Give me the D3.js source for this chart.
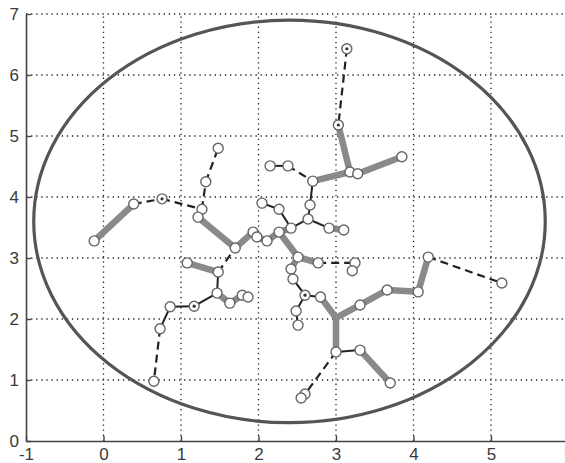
<!DOCTYPE html>
<html>
<head>
<meta charset="utf-8">
<script src="https://cdn.jsdelivr.net/npm/d3@7"></script>
<style>
  html, body { margin: 0; padding: 0; background: #fff; }
  svg { display: block; }
  .tick text { font-family: "Liberation Sans", Arial, sans-serif; font-size: 17px; fill: #3a3a3a; }
</style>
</head>
<body>
<svg id="chart" width="565" height="463"></svg>
<script>
// Axis ticks
const xTicks = [-1, 0, 1, 2, 3, 4, 5, 6];
const yTicks = [0, 1, 2, 3, 4, 5, 6, 7];

// Boundary circle (centre and radius, data units)
const boundaryCenter = [2.4, 3.6];
const boundaryRadius = 3.3;

// Tree nodes
const nodeIds = ["A","B","C","D","E","F","G","H","I1","I2","J","K","L","M","N","O1","O2",
  "P","Q","R1","R2","S","T","U","V1","V2","W","X","Y1","Y2","Z",
  "a","b","c","d","e1","e2","f","g","h","i",
  "m1","m2","m3","m4","m5","m6",
  "n1","n2","n3","n4","n5","n6","n7","p1","p2","p3","p4"];
const nodeX = [-0.12,0.39,0.755,1.27,1.22,1.32,1.48,1.70,1.93,1.98,2.11,2.265,2.42,2.51,2.77,3.245,3.21,
  2.045,2.265,2.15,2.38,2.70,2.665,2.64,2.91,3.10,3.03,3.14,3.18,3.28,3.85,
  1.08,1.48,1.465,1.63,1.79,1.865,1.17,0.86,0.73,0.65,
  2.42,2.445,2.60,2.80,2.485,2.51,
  3.0,3.31,3.0,3.31,3.70,2.60,2.55,3.66,4.06,4.19,5.14];
const nodeY = [3.28,3.885,3.97,3.80,3.67,4.25,4.80,3.165,3.425,3.345,3.28,3.425,3.49,3.015,2.92,2.92,2.79,
  3.90,3.80,4.51,4.51,4.26,3.87,3.64,3.49,3.46,5.18,6.43,4.41,4.38,4.66,
  2.92,2.77,2.425,2.26,2.39,2.36,2.21,2.20,1.84,0.98,
  2.82,2.655,2.39,2.36,2.13,1.90,
  2.02,2.23,1.46,1.49,0.95,0.77,0.705,2.475,2.445,3.015,2.59];
// Branch point drawn without a marker
const hiddenNodes = ["n1"];
// Nodes with a centre dot
const dottedNodes = ["X","f","C","m3","W"];

// Edges: [from, to]
const thickEdges = [["A","B"],["E","H"],["H","I1"],["I1","I2"],["I2","J"],["J","K"],["K","L"],
  ["K","M"],["M","N"],["M","m1"],["a","b"],["c","d"],["d","e1"],["e1","e2"],
  ["W","Y1"],["Y1","Y2"],["Y2","Z"],["Y1","S"],["V1","V2"],
  ["m4","n1"],["n2","n1"],["n1","n3"],["n4","n5"],["n2","p1"],["p1","p2"],["p2","p3"]];
const thinEdges = [["D","E"],["P","Q"],["Q","L"],["R1","R2"],["S","T"],["T","U"],["U","L"],["U","V1"],
  ["b","c"],["c","f"],["f","g"],["g","h"],["m1","m2"],["m2","m3"],["m3","m4"],["m3","m5"],["m5","m6"],
  ["n3","n4"],["O1","O2"],["n6","n7"]];
const dashedEdges = [["B","C"],["C","D"],["D","F"],["F","G"],["b","H"],["R2","S"],["X","W"],
  ["N","O1"],["h","i"],["n3","n6"],["p3","p4"]];

const svg = d3.select("#chart");
const x = d3.scaleLinear().domain([-1, 6]).range([26, 568.5]);
const y = d3.scaleLinear().domain([0, 7]).range([441, 14]);

const pos = {};
nodeIds.forEach((id, k) => { pos[id] = [nodeX[k], nodeY[k]]; });

// Dotted grid
const grid = svg.append("g").attr("stroke", "#222").attr("stroke-width", 1.3)
  .attr("stroke-dasharray", "1.3,3.8").attr("fill", "none");
grid.selectAll("line.v").data(xTicks.filter(t => t > -1)).join("line")
  .attr("x1", d => x(d)).attr("x2", d => x(d)).attr("y1", y(0)).attr("y2", y(7));
grid.selectAll("line.h").data(yTicks.filter(t => t > 0)).join("line")
  .attr("x1", x(-1)).attr("x2", x(6)).attr("y1", d => y(d)).attr("y2", d => y(d));

// Boundary circle
svg.append("ellipse")
  .attr("cx", x(boundaryCenter[0])).attr("cy", y(boundaryCenter[1]))
  .attr("rx", x(boundaryRadius) - x(0)).attr("ry", y(0) - y(boundaryRadius))
  .attr("fill", "none").attr("stroke", "#555").attr("stroke-width", 3.2);

// Edges
function drawEdges(list, stroke, width, dash) {
  svg.append("g").selectAll("line").data(list).join("line")
    .attr("x1", d => x(pos[d[0]][0])).attr("y1", d => y(pos[d[0]][1]))
    .attr("x2", d => x(pos[d[1]][0])).attr("y2", d => y(pos[d[1]][1]))
    .attr("stroke", stroke).attr("stroke-width", width)
    .attr("stroke-dasharray", dash).attr("stroke-linecap", "butt");
}
drawEdges(thickEdges, "#8a8a8a", 6.5, null);
drawEdges(thinEdges, "#222", 2, null);
drawEdges(dashedEdges, "#222", 2.2, "8,5");

// Nodes
const shown = nodeIds.filter(id => !hiddenNodes.includes(id));
svg.append("g").selectAll("circle").data(shown).join("circle")
  .attr("cx", d => x(pos[d][0])).attr("cy", d => y(pos[d][1])).attr("r", 5)
  .attr("fill", "#fff").attr("stroke", "#666").attr("stroke-width", 1.4);
svg.append("g").selectAll("circle").data(dottedNodes).join("circle")
  .attr("cx", d => x(pos[d][0])).attr("cy", d => y(pos[d][1])).attr("r", 1.6)
  .attr("fill", "#333");

// Axes (ticks pointing inward)
const fmt = d => String(d);
const xAxis = d3.axisBottom(x).tickValues(xTicks).tickFormat(fmt).tickSizeInner(-5).tickSizeOuter(0).tickPadding(7);
const yAxis = d3.axisLeft(y).tickValues(yTicks).tickFormat(fmt).tickSizeInner(-5).tickSizeOuter(0).tickPadding(7);
const gx = svg.append("g").attr("transform", `translate(0,${y(0)})`).call(xAxis);
const gy = svg.append("g").attr("transform", `translate(${x(-1)},0)`).call(yAxis);
[gx, gy].forEach(g => {
  g.select(".domain").attr("stroke", "#444").attr("stroke-width", 1.6);
  g.selectAll(".tick line").attr("stroke", "#444").attr("stroke-width", 1.4);
});
</script>
</body>
</html>
